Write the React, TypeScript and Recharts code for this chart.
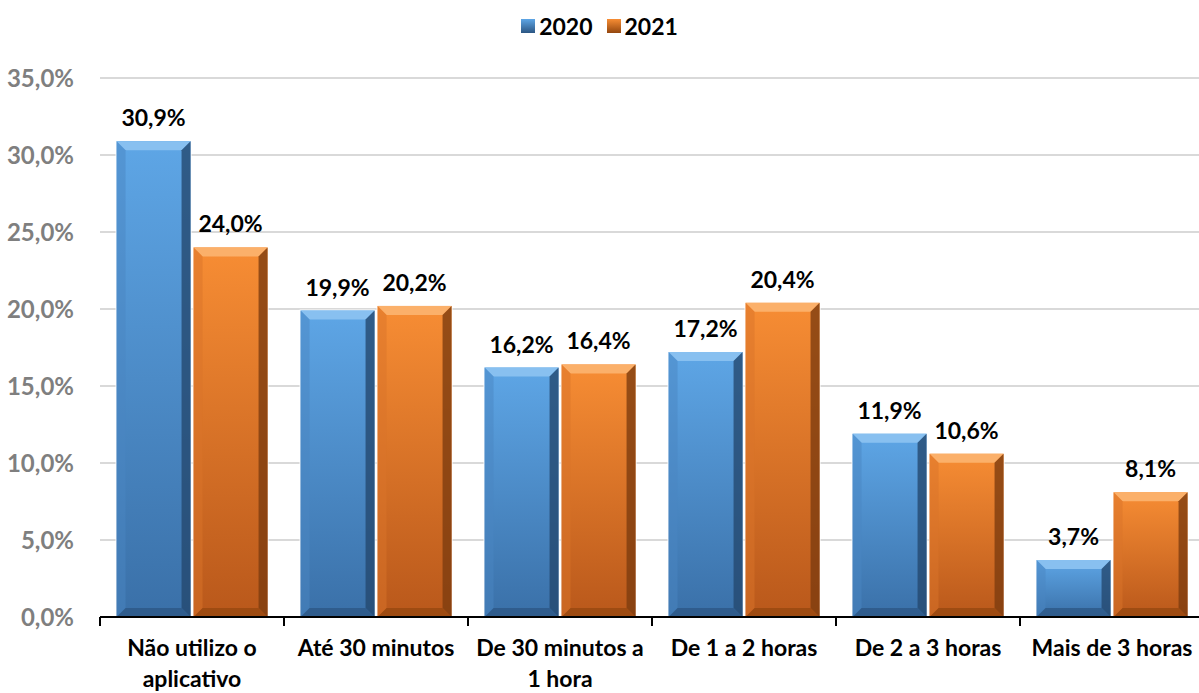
import React from 'react'
import { BarChart, Bar, XAxis, YAxis, CartesianGrid, LabelList, Legend } from 'recharts'

const categories = [
  'Não utilizo o aplicativo',
  'Até 30 minutos',
  'De 30 minutos a 1 hora',
  'De 1 a 2 horas',
  'De 2 a 3 horas',
  'Mais de 3 horas',
]
// how each category label breaks into lines
const categoryLines = [
  ['Não utilizo o', 'aplicativo'],
  ['Até 30 minutos'],
  ['De 30 minutos a', '1 hora'],
  ['De 1 a 2 horas'],
  ['De 2 a 3 horas'],
  ['Mais de 3 horas'],
]
const values2020 = [30.9, 19.9, 16.2, 17.2, 11.9, 3.7]
const values2021 = [24.0, 20.2, 16.4, 20.4, 10.6, 8.1]
const yTicks = [0, 5, 10, 15, 20, 25, 30, 35]

const data = categories.map((name, i) => ({ name, y2020: values2020[i], y2021: values2021[i] }))

const FONT = 'Lato, Open Sans, sans-serif'

const palettes: Record<string, any> = {
  blue: { top: '#88c0f0', faceTop: '#5ea6e6', faceBot: '#3a70a8', left: '#4a86c2', right: '#24486f', bottom: '#2c5683' },
  orange: { top: '#fbb06a', faceTop: '#f78d34', faceBot: '#b9581b', left: '#d9742a', right: '#7d3c0f', bottom: '#94470f' },
}

const fmt = (v: number) => v.toFixed(1).replace('.', ',') + '%'

const BevelBar = (key: string) => (props: any) => {
  const { x, y, width, height } = props
  if (!height || height <= 0) return null
  const p = palettes[key]
  const b = Math.min(9, height / 2, width / 2)
  const x2 = x + width
  const y2 = y + height
  return (
    <g>
      <rect x={x - 1} y={y - 1} width={width + 2} height={height + 1} fill="#ffffff" />
      <rect x={x} y={y} width={width} height={height} fill={`url(#face-${key})`} />
      <polygon points={`${x},${y} ${x2},${y} ${x2 - b},${y + b} ${x + b},${y + b}`} fill={p.top} />
      <polygon points={`${x},${y} ${x + b},${y + b} ${x + b},${y2 - b} ${x},${y2}`} fill={p.left} opacity={0.5} />
      <polygon points={`${x2},${y} ${x2},${y2} ${x2 - b},${y2 - b} ${x2 - b},${y + b}`} fill={p.right} opacity={0.8} />
      <polygon points={`${x},${y2} ${x + b},${y2 - b} ${x2 - b},${y2 - b} ${x2},${y2}`} fill={p.bottom} opacity={0.75} />
    </g>
  )
}

const CategoryTick = (props: any) => {
  const { x, y, index, visibleTicksCount } = props
  const band = 1104 / categories.length
  const lines = categoryLines[index] || []
  return (
    <g>
      <line x1={x - band / 2} y1={y - 8} x2={x - band / 2} y2={y + 1} stroke="#000" strokeWidth={2} />
      {index === visibleTicksCount - 1 && (
        <line x1={x + band / 2} y1={y - 8} x2={x + band / 2} y2={y + 1} stroke="#000" strokeWidth={2} />
      )}
      <text textAnchor="middle" fontFamily={FONT} fontWeight={700} fontSize={23} fill="#000">
        {lines.map((l, i) => (
          <tspan key={i} x={x} y={y + 31 + i * 31}>
            {l}
          </tspan>
        ))}
      </text>
    </g>
  )
}

const LegendContent = () => (
  <div style={{ display: 'flex', justifyContent: 'center', gap: 14, fontFamily: FONT, fontWeight: 700, fontSize: 23, lineHeight: '24px' }}>
    {[
      ['2020', 'blue'],
      ['2021', 'orange'],
    ].map(([label, key]) => (
      <span key={label} style={{ display: 'flex', alignItems: 'center', gap: 4 }}>
        <svg width={14} height={14}>
          <rect width={14} height={14} fill={`url(#legend-${key})`} />
        </svg>
        {label}
      </span>
    ))}
  </div>
)

export default function App() {
  return (
    <div style={{ position: 'absolute', left: 0, top: 0, width: 1199, height: 693, background: '#fff', overflow: 'hidden' }}>
      <BarChart
        width={1204}
        height={693}
        data={data}
        margin={{ top: 54, right: 0, bottom: 0, left: 0 }}
        barCategoryGap="9%"
        barGap={3}
      >
        <defs>
          <linearGradient id="face-blue" x1="0" y1="0" x2="0" y2="1">
            <stop offset="0%" stopColor={palettes.blue.faceTop} />
            <stop offset="100%" stopColor={palettes.blue.faceBot} />
          </linearGradient>
          <linearGradient id="face-orange" x1="0" y1="0" x2="0" y2="1">
            <stop offset="0%" stopColor={palettes.orange.faceTop} />
            <stop offset="100%" stopColor={palettes.orange.faceBot} />
          </linearGradient>
          <linearGradient id="legend-blue" x1="0" y1="0" x2="0" y2="1">
            <stop offset="0%" stopColor="#5ea6e6" />
            <stop offset="100%" stopColor="#2c5683" />
          </linearGradient>
          <linearGradient id="legend-orange" x1="0" y1="0" x2="0" y2="1">
            <stop offset="0%" stopColor="#f78d34" />
            <stop offset="100%" stopColor="#94470f" />
          </linearGradient>
        </defs>
        <Legend verticalAlign="top" align="center" content={<LegendContent />} wrapperStyle={{ top: 14, left: 0, width: 1199 }} />
        <CartesianGrid vertical={false} stroke="#d9d9d9" strokeWidth={2} />
        <XAxis
          dataKey="name"
          height={76}
          axisLine={{ stroke: '#000', strokeWidth: 2 }}
          tickLine={false}
          tick={<CategoryTick />}
          interval={0}
        />
        <YAxis
          width={100}
          domain={[0, 35]}
          ticks={yTicks}
          axisLine={false}
          tickLine={false}
          tickFormatter={fmt}
          tick={{ fill: '#7f7f7f', fontFamily: FONT, fontWeight: 700, fontSize: 24 }}
          tickMargin={20}
        />
        <Bar dataKey="y2020" isAnimationActive={false} shape={BevelBar('blue')}>
          <LabelList dataKey="y2020" position="top" offset={15} formatter={fmt} fill="#000" fontFamily={FONT} fontWeight={700} fontSize={23} />
        </Bar>
        <Bar dataKey="y2021" isAnimationActive={false} shape={BevelBar('orange')}>
          <LabelList dataKey="y2021" position="top" offset={15} formatter={fmt} fill="#000" fontFamily={FONT} fontWeight={700} fontSize={23} />
        </Bar>
      </BarChart>
    </div>
  )
}
